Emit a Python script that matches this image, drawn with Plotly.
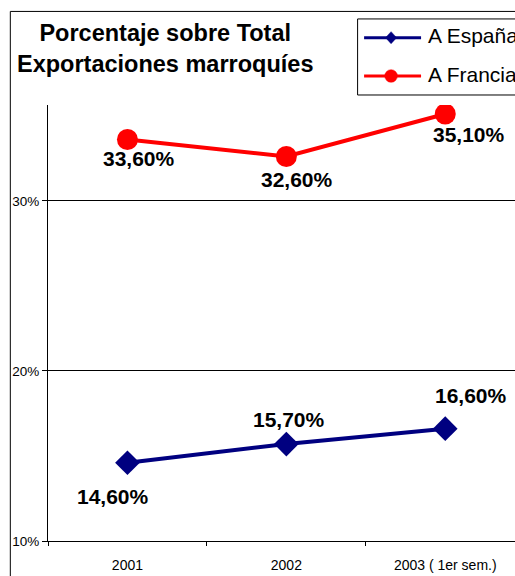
import plotly.graph_objects as go

# ---- data ----
categories = ["2001", "2002", "2003 ( 1er sem.)"]
espana = [14.6, 15.7, 16.6]
francia = [33.6, 32.6, 35.1]
series_names = ["A España", "A Francia"]
y_ticks = [10, 20, 30]
y_tick_labels = ["10%", "20%", "30%"]
title_lines = ["Porcentaje sobre Total", "Exportaciones marroquíes"]

# ---- layout geometry (pixels) ----
W, H = 515, 576
ML, MR, MT, MB = 47.7, 0, 105, 35.3
PW = W - ML - MR
PH = H - MT - MB
CAT_PX = 159.0      # px per category
UNIT_PX = 17.0      # px per percentage point


def px_x(p):
    return (p - ML) / PW


def px_y(p):
    return (H - MB - p) / PH


FONT = "Liberation Sans, Arial, sans-serif"
NAVY = "#000080"
RED = "#FF0000"
colors = [NAVY, RED]

fig = go.Figure()
fig.add_trace(go.Scatter(
    x=categories, y=espana, name=series_names[0], mode="lines+markers",
    line=dict(color=NAVY, width=4),
    marker=dict(symbol="diamond", size=19, color=NAVY),
    hoverinfo="skip", showlegend=False,
))
fig.add_trace(go.Scatter(
    x=categories, y=francia, name=series_names[1], mode="lines+markers",
    line=dict(color=RED, width=4),
    marker=dict(symbol="circle", size=21, color=RED),
    hoverinfo="skip", showlegend=False,
))


def fmt(v):
    return f"{v:.2f}".replace(".", ",") + "%"


# label offsets (px: right, up) relative to each point
esp_offsets = [(-14, -34), (3, 25), (26, 33)]
fra_offsets = [(12, -19), (11, -23), (24, -20)]

annotations = []
for vals, offs in ((espana, esp_offsets), (francia, fra_offsets)):
    for i, (v, (dx, dy)) in enumerate(zip(vals, offs)):
        annotations.append(dict(
            x=i, y=v, xref="x", yref="y", text=fmt(v), showarrow=False,
            xanchor="center", yanchor="middle", xshift=dx, yshift=dy,
            font=dict(family=FONT, size=21, color="black", weight="bold"),
        ))

annotations.append(dict(
    x=px_x(165), y=px_y(49), xref="paper", yref="paper",
    text="<br>".join(title_lines), showarrow=False,
    xanchor="center", yanchor="middle", align="center",
    font=dict(family=FONT, size=23.5, color="black", weight="bold"),
))

shapes = [dict(
    type="rect", xref="paper", yref="paper",
    x0=px_x(10), x1=px_x(600), y0=px_y(650), y1=px_y(11.5),
    line=dict(color="black", width=1), fillcolor="rgba(0,0,0,0)", layer="below",
)]

# ---- legend box (drawn by hand; it runs off the right edge as in the original) ----
LEG_L, LEG_T, LEG_B = 357.5, 19, 95
row_y = [37.7, 76]
text_y = [35.8, 74.2]
LINE_X0, LINE_X1, SYM_X, TEXT_X = 364, 421, 391, 426

shapes.append(dict(
    type="rect", xref="paper", yref="paper",
    x0=px_x(LEG_L), x1=px_x(620), y0=px_y(LEG_B), y1=px_y(LEG_T),
    line=dict(color="black", width=1), fillcolor="white", layer="above",
))
for k, (name, col) in enumerate(zip(series_names, colors)):
    ry = row_y[k]
    shapes.append(dict(
        type="line", xref="paper", yref="paper",
        x0=px_x(LINE_X0), x1=px_x(LINE_X1), y0=px_y(ry), y1=px_y(ry),
        line=dict(color=col, width=3), layer="above",
    ))
    if k == 0:
        hw, hh = 5.5, 6.0
        path = (f"M{px_x(SYM_X - hw)},{px_y(ry)} L{px_x(SYM_X)},{px_y(ry - hh)} "
                f"L{px_x(SYM_X + hw)},{px_y(ry)} L{px_x(SYM_X)},{px_y(ry + hh)} Z")
        shapes.append(dict(type="path", xref="paper", yref="paper", path=path,
                           fillcolor=col, line=dict(color=col, width=0.5), layer="above"))
    else:
        r = 6.3
        shapes.append(dict(type="circle", xref="paper", yref="paper",
                           x0=px_x(SYM_X - r), x1=px_x(SYM_X + r),
                           y0=px_y(ry + r), y1=px_y(ry - r),
                           fillcolor=col, line=dict(color=col, width=0.5), layer="above"))
    annotations.append(dict(
        x=px_x(TEXT_X), y=px_y(text_y[k]), xref="paper", yref="paper",
        text=name, showarrow=False, xanchor="left", yanchor="middle",
        font=dict(family=FONT, size=21, color="black"),
    ))

fig.update_layout(
    width=W, height=H,
    margin=dict(l=ML, r=MR, t=MT, b=MB, pad=0, autoexpand=False),
    paper_bgcolor="white", plot_bgcolor="white",
    font=dict(family=FONT, color="black"),
    showlegend=False,
    xaxis=dict(
        type="category", range=[-0.5, -0.5 + PW / CAT_PX],
        showline=True, linecolor="black", linewidth=1,
        ticks="outside", tickson="boundaries", ticklen=4, tickcolor="black",
        ticklabelstandoff=11,
        showgrid=False, zeroline=False,
        tickfont=dict(family=FONT, size=14, color="black"),
        fixedrange=True,
    ),
    yaxis=dict(
        range=[10, 10 + PH / UNIT_PX],
        tickvals=y_ticks, ticktext=y_tick_labels,
        showline=True, linecolor="black", linewidth=1,
        ticks="outside", ticklen=5, tickcolor="black",
        showgrid=True, gridcolor="black", gridwidth=1, zeroline=False,
        tickfont=dict(family=FONT, size=13.5, color="black"),
        fixedrange=True,
    ),
    annotations=annotations,
    shapes=shapes,
)

fig.write_html("out.html")
